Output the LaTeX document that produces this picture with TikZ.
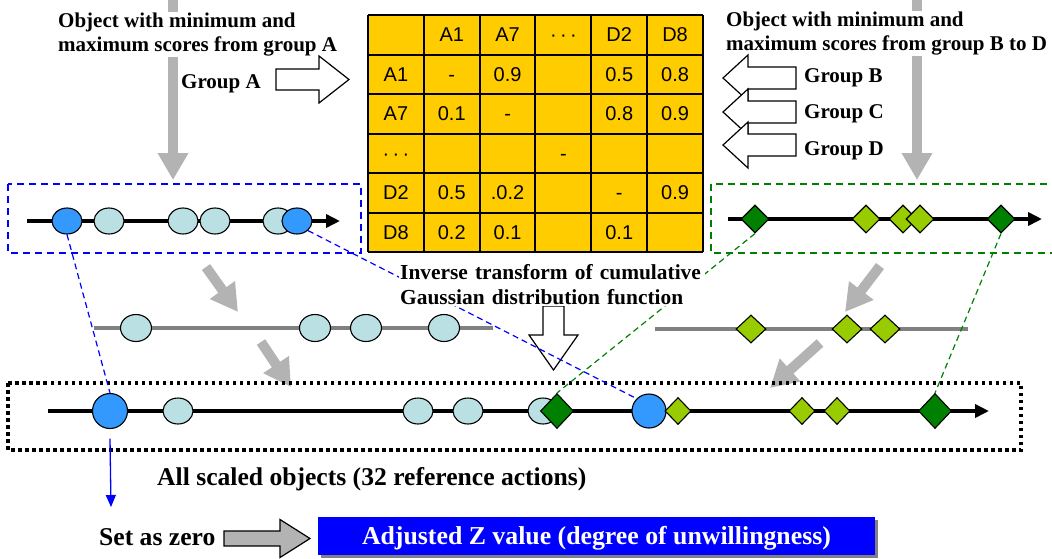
\documentclass[tikz,border=0pt]{standalone}
\usepackage{fontspec}
\setmainfont{Liberation Serif}
\newfontfamily\tabfont{Liberation Sans}
\usetikzlibrary{arrows.meta,shapes.geometric,shadows}

\definecolor{shaftgrey}{RGB}{179,179,179}
\definecolor{midgrey}{RGB}{128,128,128}
\definecolor{ptblue}{RGB}{51,153,255}
\definecolor{ptcyan}{RGB}{187,224,227}
\definecolor{ptdkgreen}{RGB}{0,128,0}
\definecolor{ptltgreen}{RGB}{153,204,0}
\definecolor{cellfill}{RGB}{255,204,0}
\definecolor{pureblue}{RGB}{0,0,255}

% horizontal block arrow: style, tail x, head base x, tip x, axis y, half shaft, half head
\newcommand\blockH[7]{\draw[#1] (#2,{#5-#6}) -- (#3,{#5-#6}) -- (#3,{#5-#7}) -- (#4,#5)
  -- (#3,{#5+#7}) -- (#3,{#5+#6}) -- (#2,{#5+#6}) -- cycle;}
% vertical block arrow: style, tail y, head base y, tip y, axis x, half shaft, half head
\newcommand\blockV[7]{\draw[#1] ({#5-#6},#2) -- ({#5-#6},#3) -- ({#5-#7},#3) -- (#5,#4)
  -- ({#5+#7},#3) -- ({#5+#6},#3) -- ({#5+#6},#2) -- cycle;}

\tikzset{
  lbl/.style={font=\bfseries\fontsize{21}{24}\selectfont, inner sep=1pt, fill=white, align=left},
  grp/.style={font=\bfseries\fontsize{21}{24}\selectfont, inner sep=0pt, anchor=base west},
  biglbl/.style={font=\bfseries\fontsize{25.6}{28}\selectfont, inner sep=0pt, anchor=base west},
  cell/.style={font=\tabfont\fontsize{20}{24}\selectfont, inner sep=0pt, anchor=base},
  greyflow/.style={shaftgrey, line width=10pt, -{Triangle[length=27pt,width=29pt]}},
  scaleline/.style={line width=4.5pt, -{Triangle[length=14pt,width=13pt]}},
  midline/.style={midgrey, line width=4.5pt},
  obj/.style={ellipse, draw, line width=1.1pt, inner sep=0pt, minimum width=30pt, minimum height=26pt},
  objA/.style={obj, fill=ptblue},
  objL/.style={obj, fill=ptcyan},
  objZ/.style={circle, draw, line width=1.1pt, fill=ptblue, inner sep=0pt, minimum size=35pt},
  gem/.style={diamond, draw, line width=1.1pt, inner sep=0pt, minimum width=28pt, minimum height=28pt},
  gemD/.style={gem, fill=ptdkgreen},
  gemL/.style={gem, fill=ptltgreen},
  gemDbig/.style={gemD, minimum width=33pt, minimum height=35pt},
  gemLsmall/.style={gemL, minimum width=26pt, minimum height=27pt},
  bluelink/.style={pureblue, line width=1.2pt, dash pattern=on 6pt off 4pt},
  greenlink/.style={ptdkgreen, line width=1.2pt, dash pattern=on 6pt off 4pt},
  outarrow/.style={draw, line width=1.2pt, fill=white, line join=miter},
}

\begin{document}
\begin{tikzpicture}[x=1pt,y=-1pt]
\useasboundingbox (0,0) rectangle (1052,558);

% ---- comparison table ----
\fill[cellfill] (368,15) rectangle (703,252);
\foreach \k in {0,...,6} {
  \draw[line width=2pt] ({368+55.83*\k},15) -- ({368+55.83*\k},252);
  \draw[line width=2pt] (368,{15+39.5*\k}) -- (703,{15+39.5*\k});
}
\foreach \c/\r/\t in {1/0/A1, 2/0/A7, 3/0/·\,·\,·, 4/0/D2, 5/0/D8,
    0/1/A1, 1/1/-, 2/1/0.9, 4/1/0.5, 5/1/0.8,
    0/2/A7, 1/2/0.1, 2/2/-, 4/2/0.8, 5/2/0.9,
    0/3/·\,·\,·, 3/3/-,
    0/4/D2, 1/4/0.5, 2/4/.0.2, 4/4/-, 5/4/0.9,
    0/5/D8, 1/5/0.2, 2/5/0.1, 4/5/0.1}
  \node[cell] (cell-\r-\c) at ({368+55.83*(\c+0.5)},{15+39.5*(\r+0.5)+7.2}) {\t};

% ---- selection flows from the top ----
\coordinate (srcAtop) at (173,-5);
\coordinate (srcAend) at (173,180);
\coordinate (srcBtop) at (917,-5);
\coordinate (srcBend) at (917,180);
\draw[greyflow] (srcAtop) -- (srcAend);
\draw[greyflow] (srcBtop) -- (srcBend);

\node[lbl, anchor=north west] (srcA) at (57,11.5) {Object with minimum and\\maximum scores from group A};
\node[lbl, anchor=north west] (srcBD) at (725,10.5) {Object with minimum and\\maximum scores from group B to D};

% group arrows into the table
\blockH{outarrow}{276}{319}{349}{79.5}{10.5}{23.5}
\node[grp] (grpA) at (181,88) {Group A};
\blockH{outarrow}{796}{748}{723}{78}{11}{23}
\blockH{outarrow}{796}{748}{723}{112}{11}{23}
\blockH{outarrow}{796}{748}{723}{145}{11}{23}
\node[grp] (grpB) at (804,82) {Group B};
\node[grp] (grpC) at (804,118) {Group C};
\node[grp] (grpD) at (804,155) {Group D};

% ---- group A scale ----
\draw[pureblue, line width=2pt, dash pattern=on 7pt off 5pt] (8,184) rectangle (361,253);
\coordinate (aS) at (27,221);
\coordinate (aE) at (340,221);
\draw[scaleline] (aS) -- (aE);
\node[objA] (ta1) at (67,221) {};
\node[objL] (ta2) at (109,221) {};
\node[objL] (ta3) at (183,221) {};
\node[objL] (ta4) at (215,221) {};
\node[objL] (ta5) at (278,221) {};
\node[objA] (ta6) at (297,221) {};

% ---- groups B to D scale ----
\draw[ptdkgreen, line width=2pt, dash pattern=on 7pt off 5pt] (711,184) rectangle (1062,253);
\coordinate (bS) at (728,219);
\coordinate (bE) at (1042,219);
\draw[scaleline] (bS) -- (bE);
\node[gemD] (tb1) at (755,219) {};
\node[gemL] (tb2) at (866,219) {};
\node[gemL] (tb3) at (903,219) {};
\node[gemL] (tb4) at (920,219) {};
\node[gemD] (tb5) at (1001,219) {};

% ---- intermediate rows ----
\coordinate (mlS) at (94,328);
\coordinate (mlE) at (493,328);
\draw[midline] (mlS) -- (mlE);
\node[objL, minimum width=31pt, minimum height=27pt] (ma1) at (136,328) {};
\node[objL, minimum width=31pt, minimum height=27pt] (ma2) at (315,328) {};
\node[objL, minimum width=31pt, minimum height=27pt] (ma3) at (366,328) {};
\node[objL, minimum width=31pt, minimum height=27pt] (ma4) at (444,328) {};

\coordinate (mrS) at (655,329);
\coordinate (mrE) at (968,329);
\draw[midline] (mrS) -- (mrE);
\node[gemL, minimum width=30pt] (mb1) at (751,329) {};
\node[gemL, minimum width=30pt] (mb2) at (847,329) {};
\node[gemL, minimum width=30pt] (mb3) at (885,329) {};

% grey diagonal flows
\coordinate (dl1s) at (206,267); \coordinate (dl1e) at (238,312);
\coordinate (dl2s) at (261,342); \coordinate (dl2e) at (291,387);
\coordinate (dr1s) at (880,266); \coordinate (dr1e) at (845,312);
\coordinate (dr2s) at (820,343); \coordinate (dr2e) at (770,388);
\draw[greyflow] (dl1s) -- (dl1e);
\draw[greyflow] (dl2s) -- (dl2e);
\draw[greyflow] (dr1s) -- (dr1e);
\draw[greyflow] (dr2s) -- (dr2e);

% transform arrow
\blockV{outarrow}{306}{335}{370}{553.5}{10.5}{24.5}

% ---- combined scale ----
\draw[line width=3.5pt, dash pattern=on 3.5pt off 3.5pt] (8,383) rectangle (1021,450);
\coordinate (cS) at (48,411);
\coordinate (cE) at (989,411);
\draw[scaleline] (cS) -- (cE);
\node[objZ] (bb1) at (110,411) {};
\node[objL] (bb2) at (178,411) {};
\node[objL] (bb3) at (418,411) {};
\node[objL] (bb4) at (468,411) {};
\node[objL] (bb5) at (543,411) {};
\node[gemDbig] (bd1) at (557,411) {};
\node[objZ, minimum size=34pt] (bb6) at (649,411) {};
\node[gemLsmall] (bd2) at (678,411) {};
\node[gemLsmall] (bd3) at (802,411) {};
\node[gemLsmall] (bd4) at (837,411) {};
\node[gemDbig] (bd5) at (935,411) {};

% links between the scales
\draw[bluelink] (ta1.south) -- (bb1.north);
\draw[bluelink] (ta6.south east) -- (bb6.north west);
\draw[greenlink] (tb1.south) -- (bd1.north);
\draw[greenlink] (tb5.south) -- (bd5.north);

\node[lbl, anchor=north west, text width=304pt, font=\bfseries\fontsize{21.4}{25}\selectfont] (inv) at (399,263.5)
  {Inverse transform of cumulative\\Gaussian distribution function};

% ---- result ----
\node[biglbl] (allobj) at (157,485) {All scaled objects (32 reference actions)};
\coordinate (zend) at (111,507);
\draw[pureblue, line width=1.3pt, -{Triangle[length=12pt,width=10pt]}] ([yshift=-9.5pt]bb1.south) -- (zend);

\node[biglbl] (zero) at (99,545) {Set as zero};
\blockH{outarrow, fill=shaftgrey}{224}{280}{310}{538.5}{7.5}{19}
\node[fill=pureblue, text=white, inner sep=0pt, minimum width=557pt, minimum height=38pt,
      text height=16.5pt, text depth=0pt, font=\bfseries\fontsize{25.8}{28}\selectfont,
      drop shadow={shadow xshift=3pt, shadow yshift=-3pt, fill=midgrey, opacity=1}]
  (zval) at (596.5,536) {Adjusted Z value (degree of unwillingness)};
\end{tikzpicture}
\end{document}
